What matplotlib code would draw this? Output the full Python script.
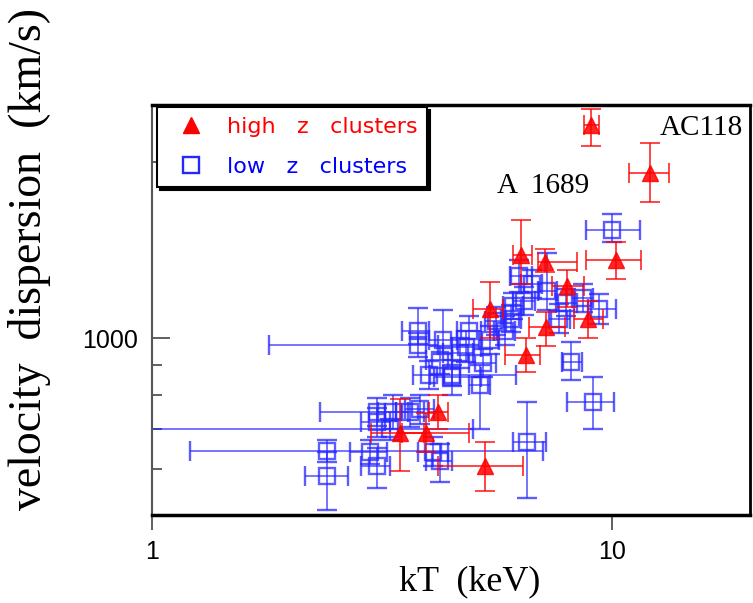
import matplotlib

matplotlib.use("Agg")
import matplotlib.pyplot as plt
import numpy as np
from matplotlib.lines import Line2D

# high z clusters: kT (keV) with lower/upper bounds, sigma (km/s) with lower/upper bounds
hi_kT = [9.0, 12.1, 10.2, 6.35, 7.16, 8.0, 5.45, 7.2, 8.9, 6.5, 4.2, 3.95, 3.46, 5.3]
hi_kT_lo = [8.7, 10.9, 8.8, 6.1, 6.9, 7.4, 5.0, 6.6, 8.3, 5.85, 4.0, 3.5, 3.0, 4.2]
hi_kT_hi = [9.4, 13.3, 11.6, 6.7, 8.4, 8.7, 5.8, 7.9, 9.6, 7.0, 4.4, 4.9, 3.9, 6.4]
hi_sig = [2310, 1915, 1363, 1385, 1352, 1228, 1123, 1044, 1080, 936, 748, 690, 690, 605]
hi_sig_lo = [2130, 1706, 1261, 1240, 1300, 1130, 1000, 970, 1000, 878, 700, 640, 595, 549]
hi_sig_hi = [2460, 2150, 1460, 1590, 1420, 1310, 1250, 1110, 1160, 1000, 800, 745, 787, 666]

# low z clusters
lo_kT = [10.0, 8.15, 9.1, 6.55, 2.4, 2.4, 3.3, 3.8, 3.8, 4.3, 4.67, 4.83, 5.25, 4.5,
         4.0, 3.08, 3.34, 3.64, 3.08, 3.82, 2.98, 3.08, 4.08, 4.23, 6.3, 6.7, 7.25,
         7.97, 8.65, 9.4, 6.1, 6.05, 5.6, 7.7, 5.85, 5.43, 6.45, 4.9, 5.16, 4.23, 4.5]
lo_kT_lo = [8.8, 7.8, 8.0, 6.1, 1.21, 2.15, 0.9, 1.8, 3.5, 4.0, 4.3, 4.5, 4.9, 4.1,
            3.7, 2.32, 3.1, 3.4, 2.85, 3.55, 2.7, 2.85, 3.8, 3.95, 6.0, 6.35, 6.9,
            7.55, 8.2, 8.9, 5.8, 5.75, 5.3, 7.3, 5.55, 5.15, 6.1, 4.6, 4.9, 3.95, 4.02]
lo_kT_hi = [11.5, 8.6, 10.1, 7.2, 7.1, 2.67, 5.0, 4.2, 4.0, 4.6, 5.0, 5.2, 5.6, 5.2,
            4.3, 3.4, 3.6, 3.9, 3.3, 4.1, 3.25, 3.3, 4.4, 4.5, 6.7, 7.05, 7.6,
            8.4, 9.1, 10.2, 6.4, 6.35, 5.9, 8.1, 6.15, 5.7, 6.8, 5.2, 5.45, 4.5, 6.2]
lo_sig = [1530, 911, 780, 666, 643, 582, 700, 975, 1031, 992, 945, 966, 907, 860,
          866, 748, 748, 748, 720, 757, 640, 607, 640, 617, 1276, 1238, 1204,
          1150, 1172, 1123, 1136, 1080, 1072, 1080, 1031, 992, 1158, 1031, 834, 918, 866]
lo_sig_lo = [1460, 850, 700, 535, 615, 510, 670, 930, 980, 940, 890, 910, 860, 800,
             820, 710, 700, 705, 680, 715, 610, 555, 605, 570, 1200, 1170, 1120,
             1090, 1110, 1060, 1080, 1025, 1015, 1020, 975, 940, 1095, 975, 700, 870, 830]
lo_sig_hi = [1630, 985, 860, 780, 672, 640, 730, 1020, 1128, 1118, 1000, 1030, 960, 920,
             915, 790, 800, 790, 760, 800, 672, 650, 680, 660, 1360, 1310, 1400,
             1215, 1240, 1190, 1195, 1140, 1130, 1145, 1090, 1050, 1225, 1090, 900, 970, 900]

x_ticks = [1, 10]
x_tick_labels = ["1", "10"]
y_ticks = [1000]
y_tick_labels = ["1000"]
y_minor = [600, 700, 800, 900, 2000]


def asym_err(val, lo, hi):
    val = np.asarray(val, dtype=float)
    return np.vstack([val - np.asarray(lo), np.asarray(hi) - val])


def main():
    fig = plt.figure(figsize=(7.53, 6.03), dpi=100)
    ax = fig.add_axes([152 / 753, 88 / 603, 598 / 753, 410 / 603])
    ax.set_xscale("log")
    ax.set_yscale("log")

    blue = (0.15, 0.15, 1.0)
    ax.errorbar(
        lo_kT, lo_sig,
        xerr=asym_err(lo_kT, lo_kT_lo, lo_kT_hi),
        yerr=asym_err(lo_sig, lo_sig_lo, lo_sig_hi),
        fmt="s", ms=11.5, mfc="none", mec=blue, mew=1.7,
        ecolor=blue, elinewidth=1.2, capsize=7, capthick=1.2, alpha=0.75, zorder=2,
    )
    ax.errorbar(
        hi_kT, hi_sig,
        xerr=asym_err(hi_kT, hi_kT_lo, hi_kT_hi),
        yerr=asym_err(hi_sig, hi_sig_lo, hi_sig_hi),
        fmt="^", ms=11, mfc="red", mec="red",
        ecolor="red", elinewidth=1.2, capsize=7, capthick=1.2, alpha=0.85, zorder=3,
    )

    ax.set_xlim(1, 20)
    ax.set_ylim(500, 2500)

    ax.xaxis.set_major_locator(matplotlib.ticker.FixedLocator(x_ticks))
    ax.xaxis.set_major_formatter(matplotlib.ticker.FixedFormatter(x_tick_labels))
    ax.xaxis.set_minor_locator(matplotlib.ticker.NullLocator())
    ax.yaxis.set_major_locator(matplotlib.ticker.FixedLocator(y_ticks))
    ax.yaxis.set_major_formatter(matplotlib.ticker.FixedFormatter(y_tick_labels))
    ax.yaxis.set_minor_locator(matplotlib.ticker.FixedLocator(y_minor))
    ax.yaxis.set_minor_formatter(matplotlib.ticker.NullFormatter())

    ax.tick_params(axis="x", which="major", direction="out", length=11, width=1.2,
                   pad=7, labelsize=18, colors="#444444", labelcolor="black")
    ax.tick_params(axis="y", which="major", direction="in", length=13, width=1.2,
                   pad=10, labelsize=18, colors="#444444", labelcolor="black")
    ax.tick_params(axis="y", which="minor", direction="in", length=7, width=1.2,
                   colors="#444444")
    for lab in ax.get_xticklabels() + ax.get_yticklabels():
        lab.set_fontfamily("Liberation Sans")

    ax.spines["top"].set_linewidth(2.5)
    ax.spines["bottom"].set_linewidth(2.5)
    ax.spines["right"].set_linewidth(2)
    ax.spines["left"].set_linewidth(1.5)
    ax.spines["left"].set_color("#555555")

    ax.set_xlabel("kT  (keV)", fontfamily="Liberation Serif", fontsize=26, va="center")
    ax.xaxis.set_label_coords((470 - 152) / 598, (515 - 582) / 410)
    ax.set_ylabel("velocity  dispersion  (km/s)", fontfamily="Liberation Serif",
                  fontsize=33, va="center")
    ax.yaxis.set_label_coords((30 - 152) / 598, (515 - 259) / 410)

    ax.text(5.62, 1820, "A  1689", fontfamily="Liberation Serif", fontsize=21,
            ha="left", va="center", clip_on=False)
    ax.text(12.7, 2280, "AC118", fontfamily="Liberation Serif", fontsize=21,
            ha="left", va="center", clip_on=False)

    handles = [
        Line2D([], [], ls="none", marker="^", ms=11, mfc="red", mec="red"),
        Line2D([], [], ls="none", marker="s", ms=11, mfc="none", mec=blue, mew=1.7),
    ]
    leg = ax.legend(
        handles, ["high   z   clusters", "low   z   clusters"],
        loc="upper left", bbox_to_anchor=(0.008, 0.995), borderaxespad=0,
        prop={"family": "DejaVu Sans", "size": 16}, labelcolor=["red", "blue"],
        frameon=True, fancybox=False, framealpha=1, edgecolor="black",
        shadow={"color": "black", "alpha": 1}, handlelength=2.2, handletextpad=0.5,
        labelspacing=0.9, borderpad=0.45,
    )
    leg.get_frame().set_linewidth(1.5)

    fig.savefig("out.png", dpi=100)


if __name__ == "__main__":
    main()
